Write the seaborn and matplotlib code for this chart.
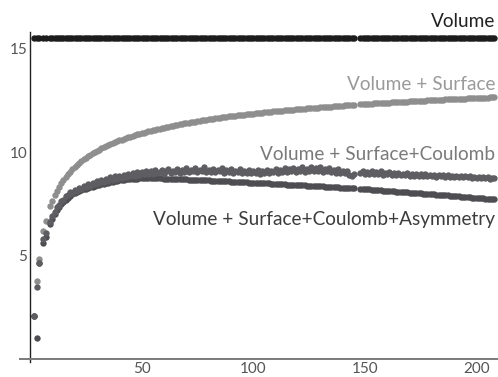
import numpy as np
import pandas as pd
import matplotlib
matplotlib.use("Agg")
import matplotlib.pyplot as plt
import seaborn as sns
from matplotlib.ticker import MultipleLocator, FixedLocator

# mass numbers A (no points at 5, 8 and 146-147)
mass_number = [2, 3, 4, 6, 7] + list(range(9, 146)) + list(range(148, 209))

# binding energy per nucleon, MeV
volume = [15.5] * len(mass_number)

surface = [
    2.09, 3.78, 4.85, 6.20, 6.67,
    7.37, 7.65, 7.90, 8.12, 8.31, 8.49, 8.65, 8.79, 8.93, 9.05, 9.17, 9.27,
    9.37, 9.47, 9.56, 9.64, 9.72, 9.79, 9.87, 9.94, 10.00, 10.06,
    10.12, 10.18, 10.23, 10.28, 10.33, 10.38, 10.43, 10.47, 10.52, 10.56,
    10.60, 10.64, 10.68, 10.71, 10.75, 10.78, 10.82, 10.85, 10.88, 10.91,
    10.94, 10.97, 11.00, 11.03, 11.06, 11.08, 11.11, 11.13, 11.16, 11.18,
    11.20, 11.23, 11.25, 11.27, 11.30, 11.32, 11.34, 11.36, 11.38, 11.40,
    11.42, 11.44, 11.46, 11.47, 11.49, 11.51, 11.53, 11.55, 11.56, 11.58,
    11.60, 11.61, 11.63, 11.64, 11.66, 11.67, 11.69, 11.70, 11.72, 11.73,
    11.75, 11.76, 11.77, 11.79, 11.80, 11.81, 11.82, 11.84, 11.85, 11.86,
    11.87, 11.88, 11.89, 11.91, 11.92, 11.93, 11.94, 11.95, 11.96, 11.97,
    11.98, 11.99, 12.00, 12.01, 12.02, 12.03, 12.04, 12.05, 12.06, 12.07,
    12.08, 12.09, 12.10, 12.11, 12.12, 12.12, 12.13, 12.14, 12.15, 12.16,
    12.17, 12.17, 12.18, 12.19, 12.20, 12.21, 12.21, 12.22, 12.23, 12.24,
    12.25, 12.25, 12.26, 12.27, 12.28,
    12.30, 12.31, 12.32,
    12.33, 12.33, 12.34, 12.35, 12.35, 12.36, 12.37, 12.37, 12.38, 12.39,
    12.39, 12.40, 12.41, 12.41, 12.42, 12.42, 12.43, 12.44, 12.44, 12.45,
    12.46, 12.46, 12.47, 12.47, 12.48, 12.48, 12.49, 12.50, 12.50, 12.51,
    12.51, 12.52, 12.52, 12.53, 12.53, 12.54, 12.54, 12.55, 12.55, 12.56,
    12.56, 12.57, 12.57, 12.58, 12.58, 12.59, 12.59, 12.60, 12.60, 12.61,
    12.61, 12.62, 12.62, 12.63, 12.63, 12.64, 12.64, 12.65,
]

coulomb = [
    2.09, 3.48, 4.66, 5.82, 6.10,
    6.62, 6.90, 7.12, 7.35, 7.42, 7.62, 7.70, 7.86, 7.92, 8.05, 8.02, 8.18,
    8.12, 8.28, 8.22, 8.38, 8.30, 8.44, 8.36, 8.52, 8.45, 8.60,
    8.50, 8.66, 8.56, 8.72, 8.60, 8.78, 8.66, 8.82, 8.70, 8.86,
    8.74, 8.90, 8.78, 8.95, 8.82, 8.98, 8.86, 9.02, 8.90, 9.05,
    8.92, 9.08, 8.94, 9.10, 8.95, 9.12, 8.97, 9.05, 9.15, 8.96,
    9.08, 9.18, 8.98, 9.10, 9.02, 9.20, 9.00, 9.12, 9.04, 9.22,
    9.02, 9.14, 9.06, 9.24, 9.03, 9.15, 9.08, 9.26, 9.04, 9.13,
    9.05, 9.20, 9.02, 9.14, 9.06, 9.22, 9.01, 9.12, 9.04, 9.18,
    9.00, 9.10, 9.02, 9.16, 8.98, 9.08, 9.01, 9.14, 8.97, 9.06,
    8.99, 9.12, 8.96, 9.08, 9.00, 9.15, 8.98, 9.10, 9.02, 9.18,
    9.00, 9.14, 9.04, 9.22, 9.02, 9.16, 9.06, 9.25, 9.04, 9.18,
    9.08, 9.28, 9.05, 9.20, 9.10, 9.30, 9.06, 9.22, 9.08, 9.26,
    9.04, 9.18, 9.06, 9.22, 9.02, 9.14, 9.00, 9.16, 8.98, 9.08,
    8.98, 9.06, 8.90, 8.86, 8.95,
    8.98, 9.06, 8.94,
    9.04, 8.95, 9.08, 8.92, 9.02, 8.94, 9.06, 8.90, 9.00, 8.92,
    9.02, 8.88, 8.98, 8.90, 9.00, 8.87, 8.96, 8.88, 8.98, 8.85,
    8.94, 8.86, 8.95, 8.84, 8.93, 8.85, 8.92, 8.82, 8.90, 8.83,
    8.91, 8.81, 8.89, 8.82, 8.88, 8.80, 8.87, 8.79, 8.86, 8.80,
    8.85, 8.78, 8.84, 8.77, 8.83, 8.78, 8.82, 8.76, 8.81, 8.75,
    8.80, 8.74, 8.79, 8.73, 8.78, 8.72, 8.76, 8.73,
]

asymmetry = [
    2.09, 1.00, 4.65, 5.60, 5.90,
    6.50, 6.75, 7.00, 7.18, 7.33, 7.47, 7.58, 7.70, 7.80, 7.88, 7.96, 8.03,
    8.07, 8.11, 8.15, 8.19, 8.23, 8.26, 8.30, 8.33, 8.36, 8.39,
    8.42, 8.45, 8.47, 8.50, 8.52, 8.55, 8.57, 8.59, 8.61, 8.63,
    8.65, 8.66, 8.68, 8.69, 8.70, 8.71, 8.72, 8.72, 8.73, 8.73,
    8.74, 8.74, 8.74, 8.74, 8.74, 8.74, 8.73, 8.73, 8.73, 8.72,
    8.72, 8.72, 8.71, 8.71, 8.70, 8.70, 8.69, 8.69, 8.68, 8.68,
    8.67, 8.67, 8.66, 8.66, 8.65, 8.65, 8.64, 8.64, 8.63, 8.63,
    8.62, 8.62, 8.61, 8.61, 8.60, 8.59, 8.59, 8.58, 8.58, 8.57,
    8.56, 8.56, 8.55, 8.55, 8.54, 8.54, 8.53, 8.52, 8.52, 8.51,
    8.51, 8.50, 8.50, 8.49, 8.49, 8.48, 8.48, 8.47, 8.47, 8.46,
    8.46, 8.45, 8.45, 8.44, 8.43, 8.43, 8.42, 8.42, 8.41, 8.41,
    8.40, 8.39, 8.39, 8.38, 8.38, 8.37, 8.36, 8.36, 8.35, 8.34,
    8.34, 8.33, 8.32, 8.32, 8.31, 8.30, 8.30, 8.29, 8.28, 8.28,
    8.27, 8.26, 8.26, 8.25, 8.24,
    8.22, 8.21, 8.20,
    8.19, 8.19, 8.18, 8.17, 8.16, 8.15, 8.15, 8.14, 8.13, 8.12,
    8.11, 8.11, 8.10, 8.09, 8.08, 8.07, 8.07, 8.06, 8.05, 8.04,
    8.03, 8.02, 8.02, 8.01, 8.00, 7.99, 7.98, 7.97, 7.97, 7.96,
    7.95, 7.94, 7.93, 7.92, 7.92, 7.91, 7.90, 7.89, 7.88, 7.87,
    7.86, 7.86, 7.85, 7.84, 7.83, 7.82, 7.81, 7.80, 7.80, 7.79,
    7.78, 7.77, 7.76, 7.75, 7.74, 7.73, 7.72, 7.71,
]

series_names = ["Volume", "Volume + Surface", "Volume + Surface+Coulomb+Asymmetry",
                "Volume + Surface+Coulomb"]
series_values = [volume, surface, asymmetry, coulomb]
dot_colors = ["#1c1c1c", "#8e8e8e", "#4e4e52", "#5e5e62"]
label_colors = ["#222222", "#9a9a9a", "#3c3c3c", "#7a7a7a"]

frames = []
for name, vals in zip(series_names, series_values):
    frames.append(pd.DataFrame({"A": mass_number, "B": vals, "series": name}))
df = pd.concat(frames, ignore_index=True)

sns.set_theme(style="white")
plt.rcParams["font.family"] = ["Lato", "DejaVu Sans"]

fig = plt.figure(figsize=(4.98, 3.77), dpi=100)
ax = fig.add_axes([20 / 498, 1 - 362 / 377, 478 / 498, 330 / 377])

for name, col in zip(series_names, dot_colors):
    sns.scatterplot(data=df[df["series"] == name], x="A", y="B", color=col,
                    s=21, linewidth=0, legend=False, ax=ax)

ax.set_xlim(-4.48, 209.6)
ax.set_ylim(-0.145, 15.8)
ax.set_xlabel("")
ax.set_ylabel("")

for s in ["top", "right"]:
    ax.spines[s].set_visible(False)
ax.spines["left"].set_position(("data", 0))
ax.spines["bottom"].set_position(("data", 0))
ax.spines["left"].set_color("#222222")
ax.spines["left"].set_linewidth(1.0)
ax.spines["bottom"].set_color("#7a7a7a")
ax.spines["bottom"].set_linewidth(1.4)

ax.xaxis.set_major_locator(FixedLocator([50, 100, 150, 200]))
ax.xaxis.set_minor_locator(MultipleLocator(10))
ax.yaxis.set_major_locator(FixedLocator([5, 10, 15]))
ax.yaxis.set_minor_locator(MultipleLocator(1))
ax.tick_params(which="both", direction="in", colors="#333333", labelcolor="#555555",
               labelsize=11)
ax.tick_params(which="major", length=3.5, width=0.8)
ax.tick_params(which="minor", length=2, width=0.7)
ax.tick_params(axis="y", pad=2)
ax.tick_params(axis="x", pad=2)

# curve labels, right aligned like the original
baselines = [27, 90, 225, 160]
for name, col, yb in zip(series_names, label_colors, baselines):
    fig.text(495 / 498, 1 - yb / 377, name, ha="right", va="baseline",
             color=col, fontsize=13.7)

fig.savefig("out.png", dpi=100)
